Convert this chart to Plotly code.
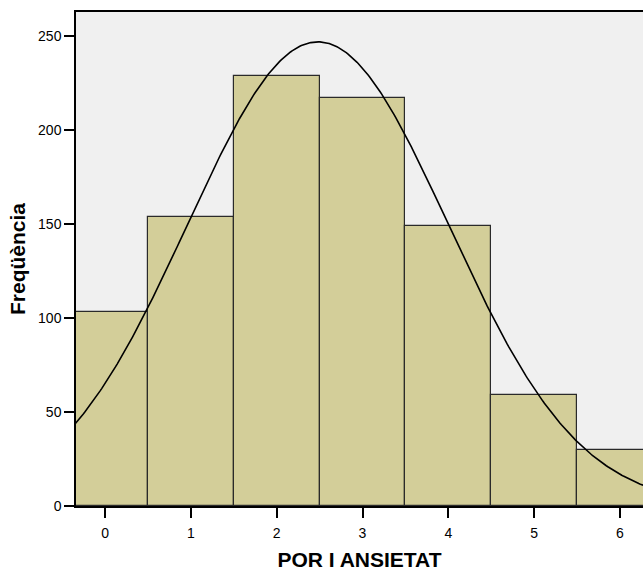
import numpy as np
import plotly.graph_objects as go

# Data
categories = [0, 1, 2, 3, 4, 5, 6]
frequencies = [103, 154, 229, 217, 149, 59, 30]
x_title = "POR I ANSIETAT"
y_title = "Freqüència"
y_ticks = [0, 50, 100, 150, 200, 250]

# Normal curve fitted to the data (as SPSS does)
cats = np.array(categories, dtype=float)
freq = np.array(frequencies, dtype=float)
n = freq.sum()
mean = (cats * freq).sum() / n
sd = np.sqrt(((cats - mean) ** 2 * freq).sum() / (n - 1))
xs = np.linspace(-0.6, 6.6, 400)
ys = n * 1.0 * np.exp(-0.5 * ((xs - mean) / sd) ** 2) / (sd * np.sqrt(2 * np.pi))

font_family = "Liberation Sans, Arial, sans-serif"

fig = go.Figure()
fig.add_trace(go.Bar(
    x=categories, y=frequencies, width=1.0,
    marker=dict(color="#D3CE99", line=dict(color="#2a2a2a", width=1.2)),
    hoverinfo="x+y",
))
fig.add_trace(go.Scatter(
    x=xs, y=ys, mode="lines",
    line=dict(color="black", width=1.6),
    hoverinfo="skip",
))

fig.update_layout(
    width=643, height=571,
    margin=dict(l=76, r=0, t=12, b=65),
    paper_bgcolor="white",
    plot_bgcolor="#F0F0F0",
    showlegend=False,
    bargap=0,
    font=dict(family=font_family, color="black", size=14),
)
fig.update_xaxes(
    range=[-0.34, 6.27],
    tickmode="array", tickvals=categories, ticktext=[str(c) for c in categories],
    ticks="outside", ticklen=10, tickwidth=1.5, tickcolor="black",
    ticklabelstandoff=3,
    showline=True, linecolor="black", linewidth=1.5, mirror=True,
    showgrid=False, zeroline=False,
    tickfont=dict(size=14),
    title=dict(text="<b>" + x_title + "</b>", font=dict(size=21), standoff=17),
)
fig.update_yaxes(
    range=[0, 262.8],
    tickmode="array", tickvals=y_ticks,
    ticks="outside", ticklen=10, tickwidth=1.5, tickcolor="black",
    showline=True, linecolor="black", linewidth=1.5,
    showgrid=False, zeroline=False,
    tickfont=dict(size=14),
    title=dict(text="<b>" + y_title + "</b>", font=dict(size=21), standoff=7),
)

fig.write_html(
    "out.html",
    config={"displayModeBar": False},
    post_script="document.body.style.margin='0';document.body.style.overflow='hidden';",
)
